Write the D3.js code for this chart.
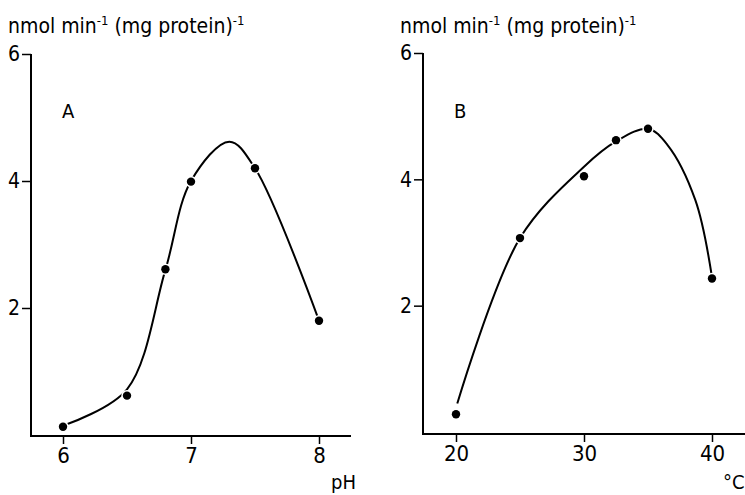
<!DOCTYPE html>
<html>
<head>
<meta charset="utf-8">
<script src="https://cdn.jsdelivr.net/npm/d3@7"></script>
<style>
 body { margin: 0; background: #fff; }
 text { font-family: "DejaVu Sans", sans-serif; font-stretch: condensed; fill: #000; }
</style>
</head>
<body>
<script>
const width = 745;
const height = 495;

// panel A: activity vs pH
const phValues = [6.0, 6.5, 6.8, 7.0, 7.5, 8.0];
const phActivity = [0.13, 0.62, 2.61, 3.99, 4.2, 1.8];
const phCurveX = [6.03, 6.5, 6.8, 7.0, 7.3, 7.5, 8.0];
const phCurveY = [0.17, 0.72, 2.6, 4.0, 4.62, 4.2, 1.8];
const phTicks = [6, 7, 8];

// panel B: activity vs temperature
const tempValues = [20, 25, 30, 32.5, 35, 40];
const tempActivity = [0.28, 3.07, 4.05, 4.62, 4.8, 2.43];
const tempCurveX = [20.1, 25, 30, 32.5, 35, 36.5, 38.7, 40];
const tempCurveY = [0.45, 3.07, 4.2, 4.6, 4.8, 4.55, 3.67, 2.45];
const tempTicks = [20, 30, 40];

const yTicks = [2, 4, 6];
const yTitle = "nmol min";

const svg = d3.select("body")
	.append("svg")
		.attr("width", width)
		.attr("height", height);

function drawPanel(opt)
{
 const g = svg.append("g");
 const x = d3.scaleLinear().domain(opt.xDomain).range(opt.xRange);
 const y = d3.scaleLinear().domain([0, 6]).range(opt.yRange);

 // axis lines
 g.append("line")
	.attr("x1", opt.axisX).attr("x2", opt.axisX)
	.attr("y1", y(6)).attr("y2", opt.axisY)
	.attr("stroke", "#000").attr("stroke-width", 2);
 g.append("line")
	.attr("x1", opt.axisX - 1).attr("x2", opt.xEnd)
	.attr("y1", opt.axisY).attr("y2", opt.axisY)
	.attr("stroke", "#000").attr("stroke-width", 2);

 // y ticks
 const yAxis = g.append("g")
	.attr("transform", "translate(" + opt.axisX + ",0)")
	.call(d3.axisLeft(y).tickValues(yTicks).tickSize(9).tickPadding(2).tickFormat(d3.format("d")));
 yAxis.select(".domain").remove();
 yAxis.selectAll("line").attr("stroke-width", 1.5);
 yAxis.selectAll("text").attr("font-size", 21).style("font-family", null);

 // x ticks
 const xAxis = g.append("g")
	.attr("transform", "translate(0," + opt.axisY + ")")
	.call(d3.axisBottom(x).tickValues(opt.ticks).tickSize(8).tickPadding(3).tickFormat(d3.format("d")));
 xAxis.select(".domain").remove();
 xAxis.selectAll("line").attr("stroke-width", 1.5);
 xAxis.selectAll("text").attr("font-size", 22).style("font-family", null);

 // y title
 const t = g.append("text")
	.attr("x", opt.titleX)
	.attr("y", 33)
	.attr("font-size", 21);
 t.append("tspan").text(yTitle);
 t.append("tspan").attr("dy", -8).attr("font-size", 13).text("-1");
 t.append("tspan").attr("dy", 8).text(" (mg protein)");
 t.append("tspan").attr("dy", -8).attr("font-size", 13).text("-1");

 // panel letter
 g.append("text")
	.attr("x", opt.axisX + 31)
	.attr("y", 118)
	.attr("font-size", 20)
	.text(opt.letter);

 // x unit
 g.append("text")
	.attr("x", opt.unitX)
	.attr("y", 489)
	.attr("font-size", 20)
	.text(opt.unit);

 // fitted curve
 const curve = opt.curveX.map((v, i) => [v, opt.curveY[i]]);
 g.append("path")
	.datum(curve)
	.attr("fill", "none")
	.attr("stroke", "#000")
	.attr("stroke-width", 2)
	.attr("d", d3.line().x(d => x(d[0])).y(d => y(d[1])).curve(d3.curveCatmullRom.alpha(0.5)));

 // measured points
 const pts = opt.xs.map((v, i) => ({x: v, y: opt.ys[i]}));
 g.append("g")
	.selectAll("circle")
		.data(pts)
			.join("circle")
				.attr("cx", d => x(d.x))
				.attr("cy", d => y(d.y))
				.attr("r", 4.2)
				.attr("fill", "#000")
				.attr("stroke", "#fff")
				.attr("stroke-width", 3)
				.attr("paint-order", "stroke");
}

drawPanel({
 xDomain: [6, 8], xRange: [63, 319], yRange: [435, 54],
 axisX: 31, axisY: 436, xEnd: 351,
 ticks: phTicks, xs: phValues, ys: phActivity,
 curveX: phCurveX, curveY: phCurveY,
 titleX: 8, letter: "A", unit: "pH", unitX: 331
});

drawPanel({
 xDomain: [20, 40], xRange: [456, 712], yRange: [432, 53],
 axisX: 423, axisY: 434, xEnd: 745,
 ticks: tempTicks, xs: tempValues, ys: tempActivity,
 curveX: tempCurveX, curveY: tempCurveY,
 titleX: 400, letter: "B", unit: "°C", unitX: 723
});
</script>
</body>
</html>
